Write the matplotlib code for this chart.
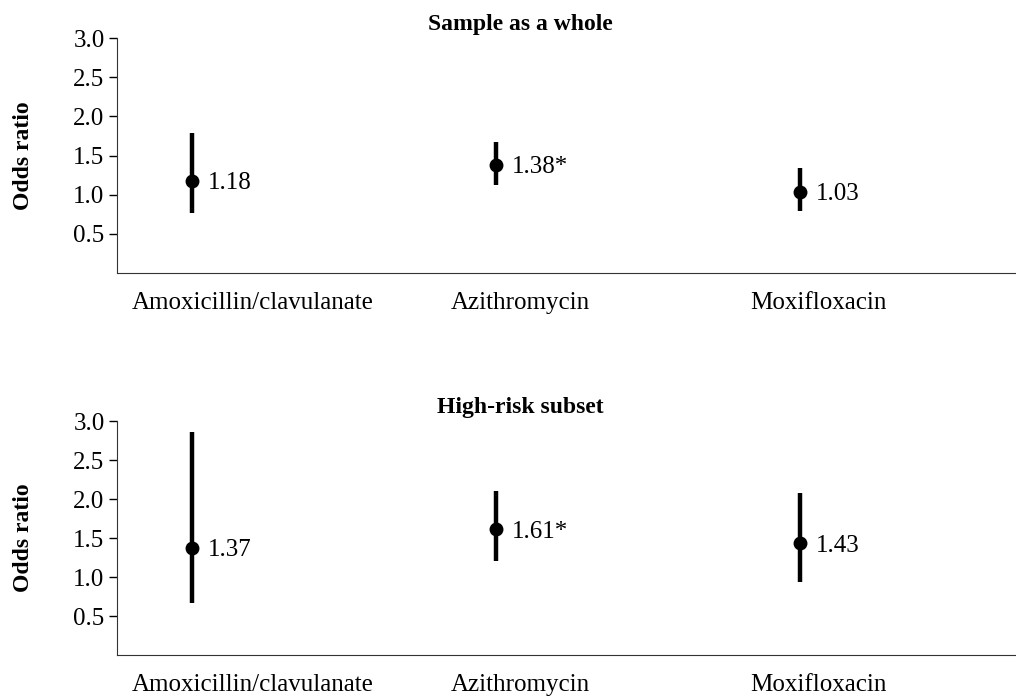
import matplotlib
matplotlib.use("Agg")
import matplotlib.pyplot as plt
import numpy as np

drugs = ["Amoxicillin/clavulanate", "Azithromycin", "Moxifloxacin"]

whole_or = [1.18, 1.38, 1.03]
whole_low = [0.77, 1.13, 0.79]
whole_high = [1.79, 1.67, 1.34]
whole_text = ["1.18", "1.38*", "1.03"]

risk_or = [1.37, 1.61, 1.43]
risk_low = [0.67, 1.20, 0.94]
risk_high = [2.86, 2.10, 2.08]
risk_text = ["1.37", "1.61*", "1.43"]

panels = [
    ("Sample as a whole", whole_or, whole_low, whole_high, whole_text),
    ("High-risk subset", risk_or, risk_low, risk_high, risk_text),
]

plt.rcParams["font.family"] = ["Liberation Serif", "DejaVu Serif"]

fig = plt.figure(figsize=(10.16, 6.99), dpi=100)
axes = [
    fig.add_axes([0.1152, 0.6094, 0.8848, 0.3362]),
    fig.add_axes([0.1152, 0.0629, 0.8848, 0.3348]),
]

x = np.arange(len(drugs))
label_shift = np.array([0.20, 0.08, 0.06])

for ax, (title, odds, low, high, texts) in zip(axes, panels):
    ax.vlines(x, low, high, color="black", linewidth=3.2)
    ax.plot(x, odds, "o", color="black", markersize=9)
    for xi, yi, txt in zip(x, odds, texts):
        ax.annotate(txt, (xi, yi), xytext=(11, -1.5), textcoords="offset points",
                    va="center", ha="left", fontsize=18)

    ax.set_xlim(-0.247, 2.71)
    ax.set_ylim(0, 3.0)
    ax.set_yticks([0.5, 1.0, 1.5, 2.0, 2.5, 3.0])
    ax.set_yticklabels(["0.5", "1.0", "1.5", "2.0", "2.5", "3.0"])
    ax.set_xticks(x + label_shift)
    ax.set_xticklabels(drugs)
    ax.tick_params(axis="x", length=0, pad=14, labelsize=18)
    ax.tick_params(axis="y", length=6, width=1, pad=3, labelsize=18)
    ax.spines["top"].set_visible(False)
    ax.spines["right"].set_visible(False)
    ax.spines["left"].set_color("#333333")
    ax.spines["bottom"].set_color("#333333")
    ax.set_ylabel("Odds ratio", fontsize=17, fontweight="bold", labelpad=28)
    ax.set_title(title, x=0.449, pad=6, fontsize=17, fontweight="bold")

fig.savefig("out.png", dpi=100)
